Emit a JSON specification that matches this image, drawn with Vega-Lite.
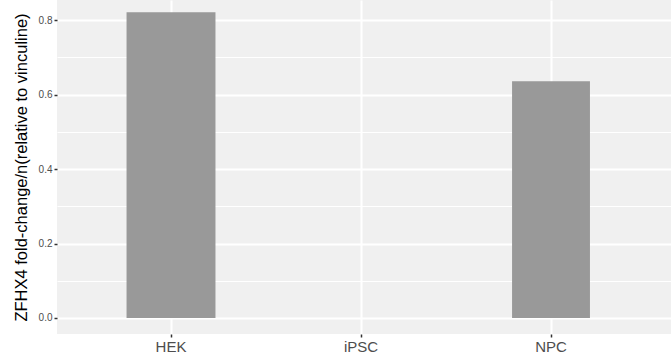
{
  "$schema": "https://vega.github.io/schema/vega-lite/v6.json",
  "width": 614,
  "height": 334,
  "autosize": {"type": "none"},
  "padding": {"left": 57, "top": 0, "right": 0, "bottom": 24},
  "background": "white",
  "data": {
    "values": [
      {"cell": "HEK", "fold_change": 0.821},
      {"cell": "iPSC", "fold_change": 0.0},
      {"cell": "NPC", "fold_change": 0.636}
    ]
  },
  "encoding": {
    "x": {
      "field": "cell",
      "type": "nominal",
      "sort": ["HEK", "iPSC", "NPC"],
      "scale": {"paddingInner": 0, "paddingOuter": 0.1158, "align": 0.432},
      "axis": {
        "title": null,
        "bandPosition": 0.5,
        "labelAngle": 0,
        "labelFontSize": 15,
        "labelColor": "#4D4D4D",
        "labelPadding": 2,
        "tickSize": 3,
        "tickColor": "#333333",
        "tickWidth": 1.5,
        "domain": false,
        "grid": true,
        "gridColor": "white",
        "gridWidth": 2
      }
    }
  },
  "layer": [
    {
      "transform": [{"filter": "datum.cell == 'HEK'"}],
      "mark": {"type": "bar", "color": "#999999", "width": {"band": 0.468}},
      "encoding": {
        "y": {
          "field": "fold_change",
          "type": "quantitative",
          "scale": {"domain": [-0.043, 0.854], "nice": false, "zero": false},
          "axis": {
            "orient": "left",
            "title": "ZFHX4 fold-change/n(relative to vinculine)",
            "titleFontSize": 16.5,
            "titleFontWeight": "normal",
            "titleColor": "black",
            "titlePadding": 9,
            "values": [0, 0.2, 0.4, 0.6, 0.8],
            "format": ".1f",
            "labelFontSize": 10,
            "labelColor": "#4D4D4D",
            "labelPadding": 2,
            "tickSize": 3,
            "tickColor": "#333333",
            "tickWidth": 1.5,
            "domain": false,
            "grid": true,
            "gridColor": "white",
            "gridWidth": 2
          }
        }
      }
    },
    {
      "transform": [{"filter": "datum.cell != 'HEK'"}],
      "mark": {"type": "bar", "color": "#999999", "width": {"band": 0.41}},
      "encoding": {
        "y": {
          "field": "fold_change",
          "type": "quantitative",
          "scale": {"domain": [-0.043, 0.854], "nice": false, "zero": false},
          "axis": {
            "orient": "left",
            "title": null,
            "values": [0.1, 0.3, 0.5, 0.7],
            "labels": false,
            "ticks": false,
            "domain": false,
            "grid": true,
            "gridColor": "white",
            "gridWidth": 1
          }
        }
      }
    }
  ],
  "resolve": {"axis": {"y": "independent"}},
  "config": {
    "font": "Liberation Sans",
    "view": {"fill": "#F0F0F0", "stroke": null}
  }
}
